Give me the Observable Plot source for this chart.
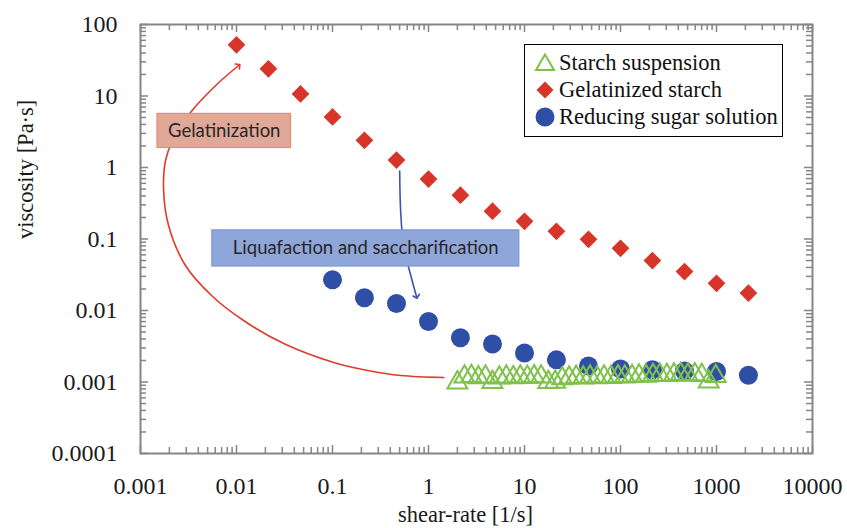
<!DOCTYPE html>
<html>
<head>
<meta charset="utf-8">
<script src="https://cdn.jsdelivr.net/npm/d3@7"></script>
<script src="https://cdn.jsdelivr.net/npm/@observablehq/plot@0.6"></script>
<style>
  html, body { margin: 0; padding: 0; background: #fff; }
  #wrap { position: relative; width: 847px; height: 528px; }
  #legend {
    position: absolute; left: 524px; top: 44px; width: 257px; height: 91px;
    border: 1.5px solid #000; background: #fff;
    font-family: "Liberation Serif", "Times New Roman", serif; font-size: 22.5px; color: #111;
  }
  .row { position: absolute; left: 0; height: 26px; display: flex; align-items: center; white-space: nowrap; }
  .row svg { margin-left: 9px; margin-right: 3px; }
</style>
</head>
<body>
<div id="wrap"></div>
<script>
// ---- data ----
const xTicks = [0.001, 0.01, 0.1, 1, 10, 100, 1000, 10000];
const xTickLabels = ["0.001", "0.01", "0.1", "1", "10", "100", "1000", "10000"];
const yTicks = [0.0001, 0.001, 0.01, 0.1, 1, 10, 100];
const yTickLabels = ["0.0001", "0.001", "0.01", "0.1", "1", "10", "100"];
const minorMult = [2, 3, 4, 5, 6, 7, 8, 9];

const gelRate = [0.01, 0.0215, 0.0464, 0.1, 0.215, 0.464, 1, 2.15, 4.64, 10, 21.5, 46.4, 100, 215, 464, 1000, 2150];
const gelVisc = [52, 24, 10.7, 5.1, 2.4, 1.27, 0.69, 0.41, 0.245, 0.177, 0.128, 0.099, 0.074, 0.05, 0.035, 0.024, 0.0175];

const sugarRate = [0.1, 0.215, 0.464, 1, 2.15, 4.64, 10, 21.5, 46.4, 100, 215, 464, 1000, 2150];
const sugarVisc = [0.027, 0.0151, 0.0125, 0.0070, 0.00415, 0.0034, 0.00255, 0.00204, 0.00168, 0.00152, 0.00148, 0.00142, 0.0014, 0.00124];

const suspRate = [2.00, 2.37, 2.80, 3.31, 3.92, 4.63, 5.47, 6.47, 7.65, 9.04, 10.7, 12.6, 14.9, 17.7, 20.9, 24.7, 29.2, 34.5, 40.8, 48.2, 57.0, 67.4, 79.7, 94.2, 111, 132, 156, 184, 218, 257, 304, 360, 425, 502, 594, 702, 830, 982];
const suspVisc = [0.00098, 0.00118, 0.00120, 0.00116, 0.00118, 0.00099, 0.00115, 0.00118, 0.00116, 0.00118, 0.00117, 0.00119, 0.00118, 0.00099, 0.00100, 0.00112, 0.00115, 0.00117, 0.00115, 0.00118, 0.00116, 0.00118, 0.00117, 0.00119, 0.00118, 0.00120, 0.00122, 0.00121, 0.00124, 0.00125, 0.00124, 0.00126, 0.00128, 0.00125, 0.00127, 0.00124, 0.00101, 0.00120];

// annotation paths (data coordinates)
const gelArrowX = [1.445, 0.514, 0.233, 0.103, 0.0310, 0.01186, 0.00564, 0.00294, 0.00196, 0.00174, 0.001824, 0.00216, 0.00332, 0.00592, 0.01052];
const gelArrowY = [0.001156, 0.001233, 0.001449, 0.001875, 0.00345, 0.00724, 0.0157, 0.0426, 0.1545, 0.477, 1.253, 2.39, 5.88, 13.6, 26.7];
const liqArrowX = [0.501, 0.513, 0.551, 0.637, 0.751];
const liqArrowY = [0.889, 0.244, 0.0787, 0.0351, 0.0156];

const boxLabels = ["Gelatinization", "Liquafaction and saccharification"];
const boxX1 = [0.001502, 0.0056];
const boxX2 = [0.0370, 8.83];
const boxY1 = [5.62, 0.132];
const boxY2 = [1.873, 0.0412];
const boxCx = [0.00745, 0.222];
const boxCy = [3.24, 0.0738];

const seriesNames = ["Starch suspension", "Gelatinized starch", "Reducing sugar solution"];

// ---- derived tables ----
const gel = gelRate.map((x, i) => ({x, y: gelVisc[i]}));
const sugar = sugarRate.map((x, i) => ({x, y: sugarVisc[i]}));
const susp = suspRate.map((x, i) => ({x, y: suspVisc[i]}));
const gelArrow = gelArrowX.map((x, i) => ({x, y: gelArrowY[i]}));
const liqArrow = liqArrowX.map((x, i) => ({x, y: liqArrowY[i]}));
const boxes = boxLabels.map((t, i) => ({t, x1: boxX1[i], x2: boxX2[i], y1: boxY1[i], y2: boxY2[i], cx: boxCx[i], cy: boxCy[i]}));
const xMinor = xTicks.slice(0, -1).flatMap(d => minorMult.map(k => d * k));
const yMinor = yTicks.slice(0, -1).flatMap(d => minorMult.map(k => d * k));

const xmin = xTicks[0], xmax = xTicks[xTicks.length - 1];
const ymin = yTicks[0], ymax = yTicks[yTicks.length - 1];

const RED = "#d8352a", BLUE = "#2f4fa6", GREEN = "#7ec24a";
const AXC = "#858585";
const SERIF = "'Liberation Serif', 'Times New Roman', serif";

const plot = Plot.plot({
  width: 847,
  height: 528,
  marginLeft: 140,
  marginRight: 35,
  marginTop: 24,
  marginBottom: 75,
  style: {fontFamily: SERIF, fontSize: "24px", color: "#111", background: "#fff"},
  x: {type: "log", domain: [xmin, xmax]},
  y: {type: "log", domain: [ymin, ymax]},
  marks: [
    // inward ticks
    Plot.ruleX(xTicks, {x: d => d, y1: ymin, y2: ymin, insetTop: -8, stroke: AXC, strokeWidth: 1.5}),
    Plot.ruleX(xMinor, {x: d => d, y1: ymin, y2: ymin, insetTop: -6, stroke: AXC, strokeWidth: 1.5}),
    Plot.ruleX(xTicks, {x: d => d, y1: ymax, y2: ymax, insetBottom: -8, stroke: AXC, strokeWidth: 1.5}),
    Plot.ruleX(xMinor, {x: d => d, y1: ymax, y2: ymax, insetBottom: -6, stroke: AXC, strokeWidth: 1.5}),
    Plot.ruleY(yTicks, {y: d => d, x1: xmin, x2: xmin, insetRight: -8, stroke: AXC, strokeWidth: 1.5}),
    Plot.ruleY(yMinor, {y: d => d, x1: xmin, x2: xmin, insetRight: -6, stroke: AXC, strokeWidth: 1.5}),
    Plot.ruleY(yTicks, {y: d => d, x1: xmax, x2: xmax, insetLeft: -8, stroke: AXC, strokeWidth: 1.5}),
    Plot.ruleY(yMinor, {y: d => d, x1: xmax, x2: xmax, insetLeft: -6, stroke: AXC, strokeWidth: 1.5}),
    Plot.frame({stroke: AXC, strokeWidth: 2}),
    Plot.axisX(xTicks, {anchor: "bottom", tickSize: 0, tickPadding: 23, tickFormat: d => xTickLabels[xTicks.indexOf(d)], fontSize: 24, fontFamily: SERIF, fill: "#1a1a1a"}),
    Plot.axisY(yTicks, {anchor: "left", tickSize: 0, tickPadding: 23, tickFormat: d => yTickLabels[yTicks.indexOf(d)], fontSize: 24, fontFamily: SERIF, fill: "#1a1a1a"}),
    Plot.text(["viscosity [Pa·s]"], {text: d => d, frameAnchor: "left", dx: -115, rotate: -90, fontSize: 22.5, fontFamily: SERIF, fill: "#1a1a1a"}),
    Plot.text(["shear-rate [1/s]"], {text: d => d, frameAnchor: "bottom", dx: -11, dy: 68, fontSize: 22.5, fontFamily: SERIF, fill: "#1a1a1a"}),
    // annotations
    Plot.line(gelArrow, {x: "x", y: "y", curve: "catmull-rom", stroke: "#e03a2b", strokeWidth: 1.6, markerEnd: "arrow"}),
    Plot.line(liqArrow, {x: "x", y: "y", curve: "catmull-rom", stroke: "#3b53b3", strokeWidth: 1.6, markerEnd: "arrow"}),
    Plot.rect(boxes.slice(0, 1), {x1: "x1", x2: "x2", y1: "y1", y2: "y2", fill: "#e0a898", stroke: "#e3906f", strokeWidth: 1.2}),
    Plot.rect(boxes.slice(1), {x1: "x1", x2: "x2", y1: "y1", y2: "y2", fill: "#8fa6db", stroke: "#7d97d6", strokeWidth: 1.2}),
    Plot.text(boxes, {x: "cx", y: "cy", text: "t", fontFamily: "Lato, 'Noto Sans', sans-serif", fontSize: 18.5, fill: "#262626"}),
    // data
    Plot.dot(gel, {x: "x", y: "y", symbol: "diamond2", r: 8, fill: RED, stroke: "none"}),
    Plot.dot(sugar, {x: "x", y: "y", symbol: "circle", r: 9.5, fill: BLUE, stroke: "none"}),
    Plot.dot(susp, {x: "x", y: "y", symbol: "triangle", r: 7.4, fill: "none", stroke: GREEN, strokeWidth: 2})
  ]
});

const wrap = document.getElementById("wrap");
wrap.appendChild(plot);

// legend
const legend = document.createElement("div");
legend.id = "legend";
const symbols = [
  `<svg width="22" height="22" viewBox="-11 -11 22 22"><path d="M0,-8.5L9,7L-9,7Z" fill="none" stroke="${GREEN}" stroke-width="2"/></svg>`,
  `<svg width="22" height="22" viewBox="-11 -11 22 22"><path d="M0,-8.5L8.5,0L0,8.5L-8.5,0Z" fill="${RED}"/></svg>`,
  `<svg width="22" height="22" viewBox="-11 -11 22 22"><circle r="9.5" fill="${BLUE}"/></svg>`
];
seriesNames.forEach((name, i) => {
  const row = document.createElement("div");
  row.className = "row";
  row.style.top = (5 + i * 27) + "px";
  row.innerHTML = symbols[i] + `<span>${name}</span>`;
  legend.appendChild(row);
});
wrap.appendChild(legend);
</script>
</body>
</html>
